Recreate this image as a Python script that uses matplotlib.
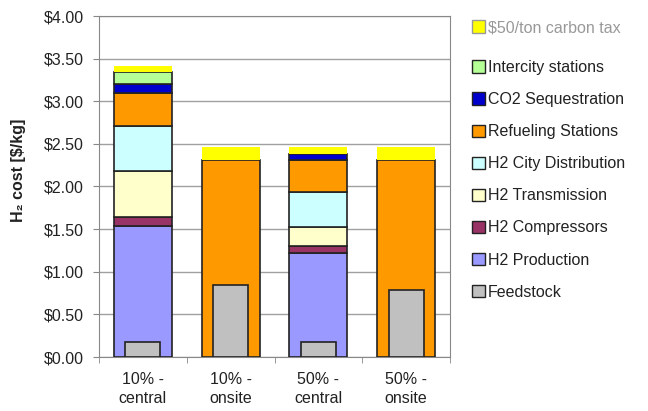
import numpy as np
import matplotlib
matplotlib.use("Agg")
import matplotlib.pyplot as plt
from matplotlib.patches import Patch

plt.rcParams['font.family'] = ['Liberation Sans', 'DejaVu Sans']

categories = ["10% -\ncentral", "10% -\nonsite", "50% -\ncentral", "50% -\nonsite"]
feedstock = [0.18, 0.85, 0.18, 0.79]
h2_production = [1.54, 0.0, 1.22, 0.0]
h2_compressors = [0.10, 0.0, 0.08, 0.0]
h2_transmission = [0.54, 0.0, 0.22, 0.0]
h2_city_distribution = [0.53, 0.0, 0.41, 0.0]
refueling_stations = [0.39, 2.31, 0.38, 2.31]
co2_sequestration = [0.10, 0.0, 0.07, 0.0]
intercity_stations = [0.14, 0.0, 0.0, 0.0]
carbon_tax = [0.07, 0.15, 0.08, 0.15]
ytick_values = [0, 0.5, 1.0, 1.5, 2.0, 2.5, 3.0, 3.5, 4.0]

stack = [
    ("H2 Production", h2_production, "#9999FF"),
    ("H2 Compressors", h2_compressors, "#993366"),
    ("H2 Transmission", h2_transmission, "#FFFFCC"),
    ("H2 City Distribution", h2_city_distribution, "#CCFFFF"),
    ("Refueling Stations", refueling_stations, "#FF9900"),
    ("CO2 Sequestration", co2_sequestration, "#0000CC"),
    ("Intercity stations", intercity_stations, "#B4FF96"),
]

FS = 11.5
fig = plt.figure(figsize=(6.48, 4.11), dpi=100)
ax = fig.add_axes([99/648, 1-357/411, 351/648, 341/411])

x = np.arange(len(categories))
bottom = np.zeros(len(categories))
for name, vals, col in stack:
    v = np.array(vals)
    m = v > 0
    ax.bar(x[m], v[m], width=0.66, bottom=bottom[m], color=col,
           edgecolor="#222222", linewidth=1.2, zorder=3)
    bottom += v
tax = np.array(carbon_tax)
ax.bar(x, tax, width=0.66, bottom=bottom, color="#FFFF00", edgecolor="none", zorder=3)
ax.bar(x, feedstock, width=0.40, color="#C0C0C0", edgecolor="#222222", linewidth=1.2, zorder=4)

ax.set_xlim(-0.5, len(categories) - 0.5)
ax.set_ylim(0, 4.0)
ax.set_yticks(ytick_values)
ax.set_yticklabels([f"${v:.2f}" for v in ytick_values], fontsize=FS, color="#222222")
ax.set_xticks(x)
ax.set_xticklabels(categories, fontsize=FS, color="#222222", linespacing=1.3)
ax.tick_params(axis='x', length=0, pad=11)
ax.set_xticks(np.arange(-0.5, len(categories), 1.0), minor=True)
ax.tick_params(axis='x', which='minor', length=4, color="#888888")
ax.tick_params(axis='y', length=4, color="#888888", pad=7)
ax.grid(axis='y', color="#A0A0A0", linewidth=1.0, zorder=0)
for s in ax.spines.values():
    s.set_color("#888888")
ax.set_ylabel("H₂ cost [$/kg]", fontsize=FS, fontweight='bold', color="#222222")
ax.yaxis.set_label_coords(26/648, 1-170/411, transform=fig.transFigure)

edge = "#222222"
h_tax = [Patch(facecolor="#FFFF00", edgecolor="#999999")]
leg1 = fig.legend(h_tax, ["$50/ton carbon tax"], loc='upper left',
                  bbox_to_anchor=(472/648, 1-20/411), frameon=False, fontsize=FS,
                  handlelength=0.8, handleheight=0.8, handletextpad=0.2, borderpad=0,
                  borderaxespad=0)
for t in leg1.get_texts():
    t.set_color("#999999")

order = [("Intercity stations", "#B4FF96"), ("CO2 Sequestration", "#0000CC"),
         ("Refueling Stations", "#FF9900"), ("H2 City Distribution", "#CCFFFF"),
         ("H2 Transmission", "#FFFFCC"), ("H2 Compressors", "#993366"),
         ("H2 Production", "#9999FF"), ("Feedstock", "#C0C0C0")]
handles = [Patch(facecolor=c, edgecolor=edge) for _, c in order]
leg2 = fig.legend(handles, [n for n, _ in order], loc='upper left',
                  bbox_to_anchor=(472/648, 1-60/411), frameon=False, fontsize=FS,
                  handlelength=0.8, handleheight=0.8, handletextpad=0.2,
                  labelspacing=1.07, borderpad=0, borderaxespad=0)
for t in leg2.get_texts():
    t.set_color("#222222")

fig.savefig("out.png", dpi=100)
